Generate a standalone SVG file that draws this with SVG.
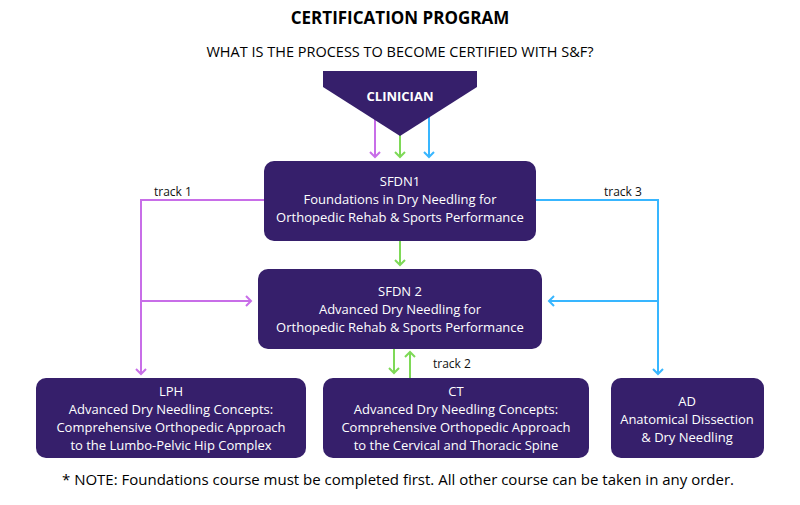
<svg xmlns="http://www.w3.org/2000/svg" width="800" height="505" viewBox="0 0 800 505">
<style>
text{font-family:"Open Sans",sans-serif;}
.n{fill:#361f6b;}
.t{fill:#fff;font-size:13px;text-anchor:middle;}
.l{fill:none;stroke-width:2;}
.p{stroke:#c86ee8;}.g{stroke:#7ed957;}.b{stroke:#38b6ff;}
.lab{font-size:12px;fill:#111;}
</style>
<defs>
<marker id="ap" markerWidth="12" markerHeight="12" refX="6" refY="6" orient="auto" markerUnits="userSpaceOnUse"><path d="M1,1 L6,6 L1,11" fill="none" stroke="#c86ee8" stroke-width="2"/></marker>
<marker id="ag" markerWidth="12" markerHeight="12" refX="6" refY="6" orient="auto" markerUnits="userSpaceOnUse"><path d="M1,1 L6,6 L1,11" fill="none" stroke="#7ed957" stroke-width="2"/></marker>
<marker id="ab" markerWidth="12" markerHeight="12" refX="6" refY="6" orient="auto" markerUnits="userSpaceOnUse"><path d="M1,1 L6,6 L1,11" fill="none" stroke="#38b6ff" stroke-width="2"/></marker>
</defs>
<rect width="800" height="505" fill="#fff"/>
<text x="400" y="24" text-anchor="middle" font-weight="bold" font-size="17">CERTIFICATION PROGRAM</text>
<text x="400" y="57" text-anchor="middle" font-size="14.5">WHAT IS THE PROCESS TO BECOME CERTIFIED WITH S&amp;F?</text>
<g id="connectors">
<path class="l p" d="M375,117 V157" marker-end="url(#ap)"/>
<path class="l g" d="M400,134 V157" marker-end="url(#ag)"/>
<path class="l b" d="M429,117 V157" marker-end="url(#ab)"/>
<path class="l p" d="M264,200 H141 V374" marker-end="url(#ap)"/>
<path class="l p" d="M141,301 H251" marker-end="url(#ap)"/>
<path class="l b" d="M536,200 H658 V374" marker-end="url(#ab)"/>
<path class="l b" d="M658,301 H549" marker-end="url(#ab)"/>
<path class="l g" d="M400,241 V265" marker-end="url(#ag)"/>
<path class="l g" d="M394,349 V373" marker-end="url(#ag)"/>
<path class="l g" d="M410,378 V352" marker-end="url(#ag)"/>
<text class="lab" x="154" y="196">track 1</text>
<text class="lab" x="604" y="196">track 3</text>
<text class="lab" x="433" y="368">track 2</text>
</g>
<g id="clinician"><path class="n" d="M323,71 H477 V87 L400,136 L323,87 Z"/><text class="t" x="400" y="101" font-weight="bold" font-size="14">CLINICIAN</text></g>
<g id="sfdn1"><rect class="n" x="264" y="161" width="272" height="80" rx="10"/>
<text class="t" x="400" y="186">SFDN1</text><text class="t" x="400" y="204">Foundations in Dry Needling for</text><text class="t" x="400" y="222">Orthopedic Rehab &amp; Sports Performance</text></g>
<g id="sfdn2"><rect class="n" x="258" y="269" width="284" height="80" rx="10"/>
<text class="t" x="400" y="296">SFDN 2</text><text class="t" x="400" y="314">Advanced Dry Needling for</text><text class="t" x="400" y="332">Orthopedic Rehab &amp; Sports Performance</text></g>
<g id="lph"><rect class="n" x="36" y="378" width="270" height="80" rx="10"/>
<text class="t" x="171" y="396">LPH</text><text class="t" x="171" y="414">Advanced Dry Needling Concepts:</text><text class="t" x="171" y="432">Comprehensive Orthopedic Approach</text><text class="t" x="171" y="450">to the Lumbo-Pelvic Hip Complex</text></g>
<g id="ct"><rect class="n" x="323" y="378" width="266" height="80" rx="10"/>
<text class="t" x="456" y="396">CT</text><text class="t" x="456" y="414">Advanced Dry Needling Concepts:</text><text class="t" x="456" y="432">Comprehensive Orthopedic Approach</text><text class="t" x="456" y="450">to the Cervical and Thoracic Spine</text></g>
<g id="ad"><rect class="n" x="611" y="378" width="153" height="80" rx="10"/>
<text class="t" x="687" y="406">AD</text><text class="t" x="687" y="424">Anatomical Dissection</text><text class="t" x="687" y="442">&amp; Dry Needling</text></g>
<text x="398" y="485" text-anchor="middle" font-size="15">* NOTE: Foundations course must be completed first. All other course can be taken in any order.</text>
</svg>
